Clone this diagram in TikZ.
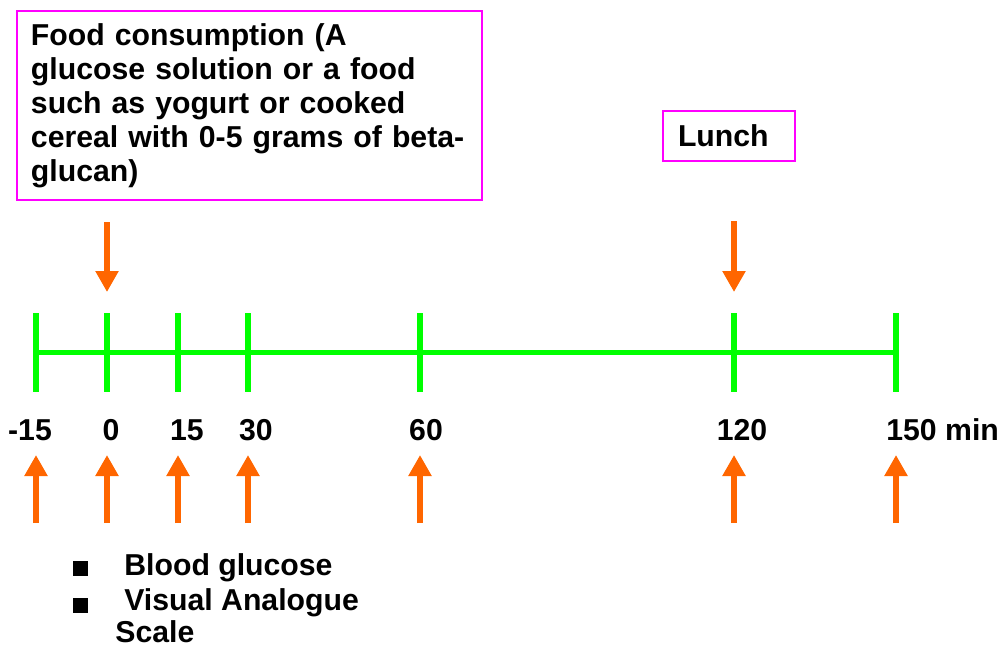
\documentclass[tikz,border=0pt]{standalone}
\usepackage{fontspec}
\setmainfont{Liberation Sans}
\usetikzlibrary{arrows.meta, positioning}
\definecolor{lineGreen}{RGB}{0,255,0}
\definecolor{markOrange}{RGB}{255,102,0}
\definecolor{boxMagenta}{RGB}{255,0,255}

\begin{document}
\begin{tikzpicture}[
    x=0.02cm, y=-0.02cm,
    bigfont/.style={font=\bfseries\fontsize{17.2pt}{19.4pt}\selectfont},
    note/.style={rectangle, draw=boxMagenta, line width=0.04cm, anchor=north west,
                 inner ysep=0pt, align=left, bigfont},
    timeline/.style={draw=lineGreen, line width=0.1cm},
    tickmark/.style={draw=lineGreen, line width=0.12cm},
    sample/.style={-{Triangle[width=0.44cm, length=0.42cm]}, line width=0.13cm, color=markOrange},
    label/.style={bigfont, inner sep=0pt},
    bullet/.style={rectangle, fill=black, inner sep=0pt, minimum size=0.3cm}
  ]
    \useasboundingbox (0,0) rectangle (1003,650);

    % boxes
    \node[note, inner xsep=0.28cm, text width=8.74cm, minimum height=3.78cm] (food) at (16,10)
      {Food consumption (A\\glucose solution or a food\\such as yogurt or cooked\\cereal with 0-5 grams of beta-\\glucan)};
    \node[note, inner xsep=0.3cm, text width=2.04cm, minimum height=1cm] (lunch) at (662,110) {Lunch};

    % meal arrows
    \coordinate (foodtop) at (107,222);
    \coordinate (foodtip) at (107,292);
    \coordinate (lunchtop) at (734,221);
    \coordinate (lunchtip) at (734,292);
    \draw[sample] (foodtop) -- (foodtip);
    \draw[sample] (lunchtop) -- (lunchtip);

    % time axis
    \coordinate (start) at (36,352);
    \coordinate (end) at (896,352);
    \draw[timeline] (start) -- (end);
    \foreach \t/\x in {m15/36, 0/107, 15/178, 30/248, 60/420, 120/734, 150/896} {
      \coordinate (tt\t) at (\x,313);
      \coordinate (tb\t) at (\x,392);
      \draw[tickmark] (tt\t) -- (tb\t);
      \coordinate (s\t) at (\x,523);
      \coordinate (e\t) at (\x,455);
      \draw[sample] (s\t) -- (e\t);
    }

    % time labels
    \node[label] (lm15) at (30,430) {-15};
    \node[label] (l0) at (111,430) {0};
    \node[label] (l15) at (187,430) {15};
    \node[label] (l30) at (256,430) {30};
    \node[label] (l60) at (426,430) {60};
    \node[label] (l120) at (742,430) {120};
    \node[label, anchor=west] (l150) at (886,430) {150 min};

    % measurements
    \node[bullet] (b1) at (80,568) {};
    \node[bullet] (b2) at (80,605) {};
    \node[label, anchor=west] (glucose) at (124,568) {Blood glucose};
    \node[label, anchor=west] (vas) at (124,603) {Visual Analogue};
    \node[label, anchor=west] (scale) at (115,632) {Scale};
  \end{tikzpicture}
\end{document}
